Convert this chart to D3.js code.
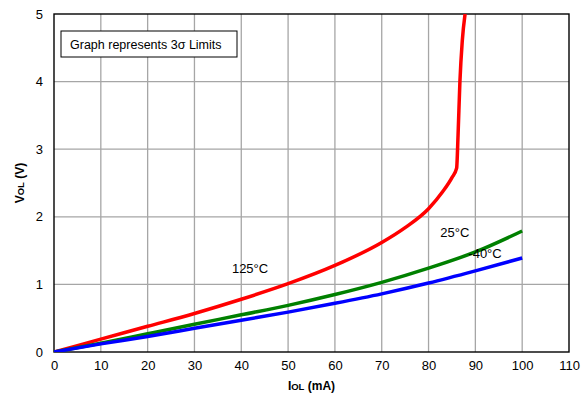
<!DOCTYPE html>
<html>
<head>
<meta charset="utf-8">
<script src="https://cdn.jsdelivr.net/npm/d3@7"></script>
<style>
  body { margin: 0; background: #fff; }
  text { font-family: "Liberation Sans", Arial, sans-serif; }
</style>
</head>
<body>
<svg id="chart" width="582" height="395"></svg>
<script>
// values (IOL in mA, VOL in V)
var xTicks = [0, 10, 20, 30, 40, 50, 60, 70, 80, 90, 100, 110];
var yTicks = [0, 1, 2, 3, 4, 5];

var hotI = [0, 10, 20, 30, 40, 50, 60, 70, 75, 80, 83, 85, 86, 86.3, 86.7, 87.2, 87.8];
var hotV = [0, 0.19, 0.38, 0.57, 0.78, 1.01, 1.28, 1.62, 1.84, 2.12, 2.37, 2.58, 2.72, 3.2, 4.0, 4.6, 5.0];

var roomI = [0, 10, 20, 30, 40, 50, 60, 70, 80, 90, 100];
var roomV = [0, 0.13, 0.27, 0.41, 0.55, 0.69, 0.85, 1.03, 1.24, 1.48, 1.79];

var coldI = [0, 10, 20, 30, 40, 50, 60, 70, 80, 90, 100];
var coldV = [0, 0.12, 0.23, 0.35, 0.47, 0.59, 0.72, 0.86, 1.02, 1.2, 1.39];

var series = [
    {name: '125°C', color: '#ff0000', i: hotI, v: hotV, lx: 38, ly: 1.17},
    {name: '25°C', color: '#008000', i: roomI, v: roomV, lx: 82.5, ly: 1.7},
    {name: '-40°C', color: '#0000ff', i: coldI, v: coldV, lx: 88.5, ly: 1.39}
];

var
svg = d3.select('#chart'),
margin = {left: 54, top: 14, right: 13, bottom: 43},
W = 582 - margin.left - margin.right,
H = 395 - margin.top - margin.bottom;

var x = d3.scaleLinear().domain([0, 110]).range([0, W]);
var y = d3.scaleLinear().domain([0, 5]).range([H, 0]);

var g = svg.append('g').attr('transform', 'translate(' + margin.left + ',' + margin.top + ')');

// grid
g.append('g').selectAll('line').data(xTicks.slice(1, -1)).enter().append('line')
    .attr('x1', function (d) { return x(d); }).attr('x2', function (d) { return x(d); })
    .attr('y1', 0).attr('y2', H)
    .attr('stroke', '#a6a6a6').attr('stroke-width', 1.3);
g.append('g').selectAll('line').data(yTicks.slice(1, -1)).enter().append('line')
    .attr('y1', function (d) { return y(d); }).attr('y2', function (d) { return y(d); })
    .attr('x1', 0).attr('x2', W)
    .attr('stroke', '#a6a6a6').attr('stroke-width', 1.3);

// frame
g.append('rect').attr('width', W).attr('height', H)
    .attr('fill', 'none').attr('stroke', '#000').attr('stroke-width', 1.4);

// axes (labels only, ticks hidden)
var xAxis = g.append('g').attr('transform', 'translate(0,' + H + ')')
    .call(d3.axisBottom(x).tickValues(xTicks).tickFormat(d3.format('d')).tickSize(0).tickPadding(9));
var yAxis = g.append('g')
    .call(d3.axisLeft(y).tickValues(yTicks).tickFormat(d3.format('d')).tickSize(0).tickPadding(11));
[xAxis, yAxis].forEach(function (a) {
    a.select('.domain').remove();
    a.selectAll('text').attr('font-size', 13).attr('fill', '#000')
        .attr('font-family', '"Liberation Sans", Arial, sans-serif');
});

// curves
var line = d3.line()
    .x(function (d) { return x(d[0]); })
    .y(function (d) { return y(d[1]); })
    .curve(d3.curveMonotoneX);

g.append('defs').append('clipPath').attr('id', 'plotClip')
    .append('rect').attr('width', W).attr('height', H);

series.forEach(function (s) {
    var pts = s.i.map(function (d, k) { return [d, s.v[k]]; });
    g.append('path').datum(pts)
        .attr('clip-path', 'url(#plotClip)')
        .attr('d', line)
        .attr('fill', 'none')
        .attr('stroke', s.color)
        .attr('stroke-width', 3.5)
        .attr('stroke-linejoin', 'round');
    g.append('text')
        .attr('x', x(s.lx)).attr('y', y(s.ly))
        .attr('font-size', 13).attr('fill', '#000')
        .text(s.name);
});

// note box
var note = g.append('g').attr('transform', 'translate(7,17)');
note.append('rect').attr('width', 176).attr('height', 26)
    .attr('fill', '#fff').attr('stroke', '#000').attr('stroke-width', 1);
note.append('text').attr('x', 9).attr('y', 17.5)
    .attr('font-size', 12.5).attr('fill', '#000')
    .text('Graph represents 3σ Limits');

// axis titles
var xt = svg.append('text')
    .attr('x', margin.left + W / 2).attr('y', 390)
    .attr('text-anchor', 'middle').attr('font-size', 12).attr('font-weight', 'bold');
xt.append('tspan').text('I');
xt.append('tspan').attr('font-size', 9.5).text('OL');
xt.append('tspan').text(' (mA)');

var yt = svg.append('text')
    .attr('transform', 'translate(24,' + (margin.top + H / 2) + ') rotate(-90)')
    .attr('text-anchor', 'middle').attr('font-size', 12).attr('font-weight', 'bold');
yt.append('tspan').text('V');
yt.append('tspan').attr('font-size', 9.5).text('OL');
yt.append('tspan').text(' (V)');
</script>
</body>
</html>
